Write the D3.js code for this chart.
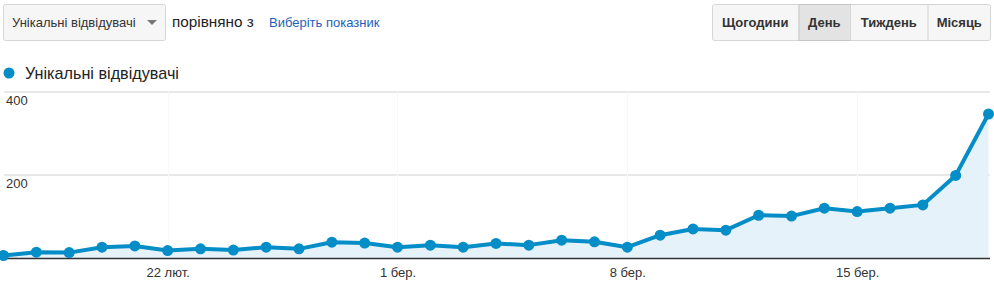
<!DOCTYPE html>
<html><head><meta charset="utf-8">
<script src="https://cdn.jsdelivr.net/npm/d3@7"></script>
<style>
html,body{margin:0;padding:0;background:#fff;}
svg{display:block;font-family:"Liberation Sans",Arial,sans-serif;}
</style></head>
<body>
<svg id="chart" width="994" height="283"></svg>
<script>
const categories = ["17.02","18.02","19.02","20.02","21.02","22.02","23.02","24.02","25.02","26.02","27.02","28.02",
  "01.03","02.03","03.03","04.03","05.03","06.03","07.03","08.03","09.03","10.03","11.03","12.03","13.03","14.03",
  "15.03","16.03","17.03","18.03","19.03"];
const visitors = [6,14,13,26,29,18,22,19,26,22,38,36,26,31,26,35,31,43,39,26,55,70,67,103,101,120,112,120,128,199,347];
const yTicks = [200,400];
const tickCategories = ["22.02","01.03","08.03","15.03"];
const tickLabels = ["22 лют.","1 бер.","8 бер.","15 бер."];
const seriesName = "Унікальні відвідувачі";
const periodButtons = ["Щогодини","День","Тиждень","Місяць"];
const activePeriod = "День";

const svg = d3.select("#chart");
const blue = "#058dc7";

// ---- header controls ----
const hdr = svg.append("g");
hdr.append("rect").attr("x",3.5).attr("y",4.5).attr("width",162).attr("height",36).attr("rx",2)
  .attr("fill","#f6f6f6").attr("stroke","#d6d6d6");
hdr.append("text").attr("x",12).attr("y",27).attr("font-size",13).attr("fill","#333").text(seriesName);
hdr.append("path").attr("d","M147,20 L157,20 L152,25 Z").attr("fill","#777");
hdr.append("text").attr("x",172).attr("y",27).attr("font-size",15.3).attr("fill","#222").text("порівняно з");
hdr.append("text").attr("x",269).attr("y",27).attr("font-size",13).attr("fill","#1f5fb8").text("Виберіть показник");

const btnEdges = [712,798.5,850,927.5,991];
const bg = svg.append("g");
bg.append("rect").attr("x",712.5).attr("y",4.5).attr("width",278).attr("height",36).attr("rx",2)
  .attr("fill","#f6f6f6").attr("stroke","#d6d6d6");
periodButtons.forEach((b,i)=>{
  const x0 = btnEdges[i], x1 = btnEdges[i+1];
  if (b===activePeriod) {
    bg.append("rect").attr("x",x0+0.5).attr("y",4.5).attr("width",x1-x0).attr("height",36)
      .attr("fill","#e3e3e3").attr("stroke","#c6c6c6");
  }
  if (i>0) bg.append("line").attr("x1",x0+0.5).attr("x2",x0+0.5).attr("y1",5).attr("y2",40).attr("stroke","#d6d6d6");
  bg.append("text").attr("x",(x0+x1)/2).attr("y",27).attr("text-anchor","middle")
    .attr("font-size",13).attr("font-weight","bold").attr("fill","#333").text(b);
});

// ---- legend ----
svg.append("circle").attr("cx",9).attr("cy",73).attr("r",5.5).attr("fill",blue);
svg.append("text").attr("x",25).attr("y",79).attr("font-size",16.2).attr("fill","#222").text(seriesName);

// ---- scales ----
const x = d3.scalePoint().domain(categories).range([3.5,988.5]);
const y = d3.scaleLinear().domain([0,400]).range([258,92]);

// grid
const grid = svg.append("g");
grid.selectAll("line.h").data(yTicks).join("line")
  .attr("x1",4).attr("x2",990).attr("y1",d=>Math.round(y(d))).attr("y2",d=>Math.round(y(d)))
  .attr("stroke","#e8e8e8").attr("stroke-width",2);
grid.selectAll("line.v").data(tickCategories).join("line")
  .attr("x1",d=>Math.round(x(d))+0.5).attr("x2",d=>Math.round(x(d))+0.5).attr("y1",92).attr("y2",258)
  .attr("stroke","#f8f8f8").attr("stroke-width",1);

// y labels
svg.selectAll("text.yl").data(yTicks).join("text")
  .attr("x",6).attr("y",d=>y(d)+13).attr("font-size",13).attr("fill","#333").text(d=>d);

// area + line
const data = categories.map((c,i)=>({c,v:visitors[i]}));
svg.append("path").datum(data)
  .attr("d",d3.area().x(d=>x(d.c)).y0(y(0)).y1(d=>y(d.v)))
  .attr("fill","#e5f2f9");
svg.append("line").attr("x1",4).attr("x2",990).attr("y1",258.5).attr("y2",258.5).attr("stroke","#333").attr("stroke-width",1.5);
svg.append("path").datum(data)
  .attr("d",d3.line().x(d=>x(d.c)).y(d=>y(d.v)))
  .attr("fill","none").attr("stroke",blue).attr("stroke-width",4).attr("stroke-linejoin","round");
svg.selectAll("circle.pt").data(data).join("circle")
  .attr("cx",d=>x(d.c)).attr("cy",d=>y(d.v)).attr("r",5.5).attr("fill",blue);

// x labels
const xAxis = d3.axisBottom(x).tickValues(tickCategories).tickSize(0).tickFormat((d)=>tickLabels[tickCategories.indexOf(d)]);
const xg = svg.append("g").attr("transform","translate(0,265)").call(xAxis);
xg.select(".domain").remove();
xg.selectAll("text").attr("font-family","Liberation Sans, Arial, sans-serif").attr("font-size",13).attr("fill","#333");
</script>
</body></html>
